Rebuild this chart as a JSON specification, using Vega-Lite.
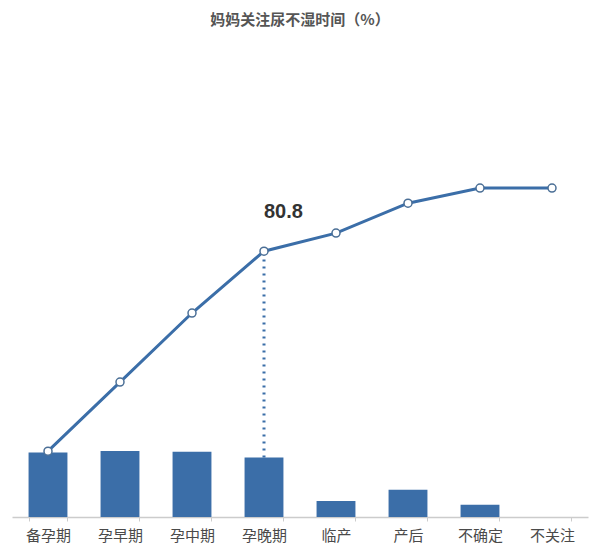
{
  "$schema": "https://vega.github.io/schema/vega-lite/v6.json",
  "width": 576,
  "height": 477,
  "autosize": {"type": "none"},
  "padding": {"left": 12, "top": 40, "right": 12, "bottom": 42},
  "background": "white",
  "title": {"text": "妈妈关注尿不湿时间（%）", "font": "Noto Sans CJK SC", "fontSize": 15, "fontWeight": "bold", "color": "#555555", "offset": 12, "anchor": "middle"},
  "config": {"view": {"stroke": null}, "font": "Noto Sans CJK SC"},
  "data": {
    "values": [
      {"stage": "备孕期", "value": 19.6, "cum": 20.0},
      {"stage": "孕早期", "value": 20.1, "cum": 41.0},
      {"stage": "孕中期", "value": 19.8, "cum": 62.0},
      {"stage": "孕晚期", "value": 18.1, "cum": 80.8},
      {"stage": "临产", "value": 4.9, "cum": 86.3},
      {"stage": "产后", "value": 8.3, "cum": 95.4},
      {"stage": "不确定", "value": 3.7, "cum": 100.0},
      {"stage": "不关注", "value": 0.0, "cum": 100.0}
    ]
  },
  "encoding": {
    "x": {
      "field": "stage", "type": "nominal", "sort": null,
      "scale": {"paddingInner": 0.46, "paddingOuter": 0.23},
      "axis": {"title": null, "labelAngle": 0, "labelFontSize": 15, "labelColor": "#4a4a4a", "labelPadding": 7, "domainColor": "#cccccc", "domainWidth": 1.5, "tickColor": "#cccccc", "tickSize": 4, "tickBand": "extent"}
    }
  },
  "layer": [
    {
      "mark": {"type": "bar", "color": "#3b6ea8"},
      "encoding": {"y": {"field": "value", "type": "quantitative", "scale": {"domain": [0, 145], "nice": false, "zero": true}, "axis": null}}
    },
    {
      "transform": [{"filter": "datum.stage === '孕晚期'"}],
      "mark": {"type": "rule", "color": "#3b6ea8", "strokeWidth": 3, "strokeDash": [2, 5]},
      "encoding": {"y": {"field": "value", "type": "quantitative"}, "y2": {"field": "cum"}}
    },
    {
      "mark": {"type": "line", "color": "#3b6ea8", "strokeWidth": 3, "point": {"filled": true, "fill": "white", "stroke": "#4b6f96", "strokeWidth": 1.5, "size": 64}},
      "encoding": {"y": {"field": "cum", "type": "quantitative"}}
    },
    {
      "transform": [{"filter": "datum.stage === '孕晚期'"}],
      "mark": {"type": "text", "align": "left", "baseline": "middle", "dy": -39, "fontSize": 20, "fontWeight": "bold", "color": "#333333", "font": "Liberation Sans"},
      "encoding": {"y": {"field": "cum", "type": "quantitative"}, "text": {"field": "cum", "type": "quantitative", "format": ".1f"}}
    }
  ]
}
